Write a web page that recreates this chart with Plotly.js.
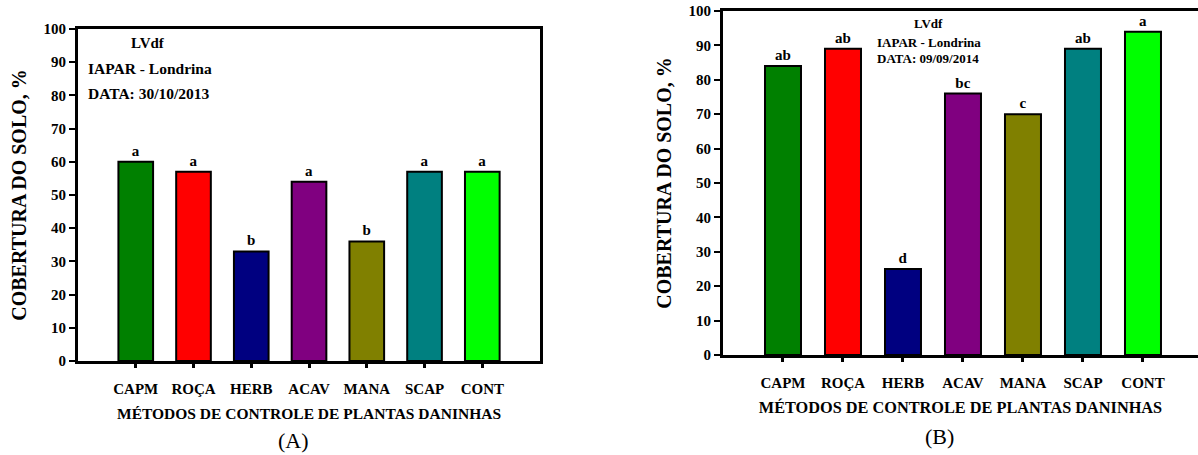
<!DOCTYPE html>
<html>
<head>
<meta charset="utf-8">
<script src="https://cdn.plot.ly/plotly-3.0.1.min.js"></script>
<style>html,body{margin:0;padding:0;background:#fff;}</style>
</head>
<body>
<div id="chart" style="width:1198px;height:455px;"></div>
<script>
const categories = ["CAPM", "ROÇA", "HERB", "ACAV", "MANA", "SCAP", "CONT"];
const barColors = ["#008000", "#ff0000", "#000080", "#800080", "#808000", "#008080", "#00ff00"];
const valuesA = [60, 57, 33, 54, 36, 57, 57];
const lettersA = ["a", "a", "b", "a", "b", "a", "a"];
const valuesB = [84, 89, 25, 76, 70, 89, 94];
const lettersB = ["ab", "ab", "d", "bc", "c", "ab", "a"];
const yTicks = [0, 10, 20, 30, 40, 50, 60, 70, 80, 90, 100];

const F = "Liberation Serif";

function barTrace(vals, letters, xa, ya) {
  return {
    type: "bar",
    x: categories,
    y: vals,
    text: letters,
    textposition: "outside",
    cliponaxis: false,
    textfont: {family: F, size: 15, color: "#000", weight: "bold"},
    width: 0.6,
    marker: {color: barColors, line: {color: "#000", width: 2}},
    xaxis: xa,
    yaxis: ya,
    hoverinfo: "x+y",
    showlegend: false
  };
}

function xAx(domain, range, anchor, tickSize, titleSize, standoff) {
  return {
    domain: domain, anchor: anchor, type: "category",
    categoryorder: "array", categoryarray: categories,
    range: range, showgrid: false, zeroline: false,
    showline: true, linecolor: "#000", linewidth: 3, mirror: true,
    ticks: "outside", ticklen: 4, tickwidth: 3, tickcolor: "#000",
    ticklabelstandoff: 8,
    tickfont: {family: F, size: tickSize, color: "#000", weight: "bold"},
    title: {text: "MÉTODOS DE CONTROLE DE PLANTAS DANINHAS", standoff: standoff,
            font: {family: F, size: titleSize, color: "#000", weight: "bold"}},
    automargin: false, fixedrange: true
  };
}

function yAx(domain, anchor, mirror) {
  return {
    domain: domain, anchor: anchor, range: [0, 100],
    tickvals: yTicks, ticktext: yTicks.map(String),
    showgrid: false, zeroline: false,
    showline: true, linecolor: "#000", linewidth: 3, mirror: mirror,
    ticks: "outside", ticklen: 6, tickwidth: 2, tickcolor: "#000",
    tickfont: {family: F, size: 15, color: "#000", weight: "bold"},
    title: {text: "COBERTURA DO SOLO, %", standoff: 12,
            font: {family: F, size: 20, color: "#000", weight: "bold"}},
    automargin: false, fixedrange: true
  };
}

const annFont = (s, bold) => ({family: F, size: s, color: "#000", weight: bold ? "bold" : "normal"});
function ann(text, px, py, size, bold, xanchor) {
  return {text: text, xref: "paper", yref: "paper", x: px / 1198, y: 1 - py / 455,
          xanchor: xanchor, yanchor: "middle", showarrow: false, font: annFont(size, bold)};
}

const layout = {
  width: 1198, height: 455,
  margin: {l: 0, r: 0, t: 0, b: 0},
  paper_bgcolor: "#fff", plot_bgcolor: "#fff",
  xaxis: xAx([0.0651, 0.4508], [-1, 7], "y", 15, 15.5, 13),
  yaxis: yAx([0.2066, 0.9363], "x", true),
  xaxis2: xAx([0.6035, 1.0], [-1, 6.917], "y2", 15, 16.3, 12),
  yaxis2: yAx([0.2198, 0.9758], "x2", false),
  annotations: [
    ann("LVdf", 148, 43, 15, true, "center"),
    ann("IAPAR - Londrina", 86, 68, 15.5, true, "left"),
    ann("DATA: 30/10/2013", 86, 94, 15.5, true, "left"),
    ann("LVdf", 928, 23, 13, true, "center"),
    ann("IAPAR - Londrina", 875, 42, 13, true, "left"),
    ann("DATA: 09/09/2014", 875, 59, 13, true, "left"),
    ann("(A)", 293, 440, 22, false, "center"),
    ann("(B)", 939, 436, 22, false, "center")
  ]
};

Plotly.newPlot("chart", [
  barTrace(valuesA, lettersA, "x", "y"),
  barTrace(valuesB, lettersB, "x2", "y2")
], layout, {displayModeBar: false});
</script>
</body>
</html>
